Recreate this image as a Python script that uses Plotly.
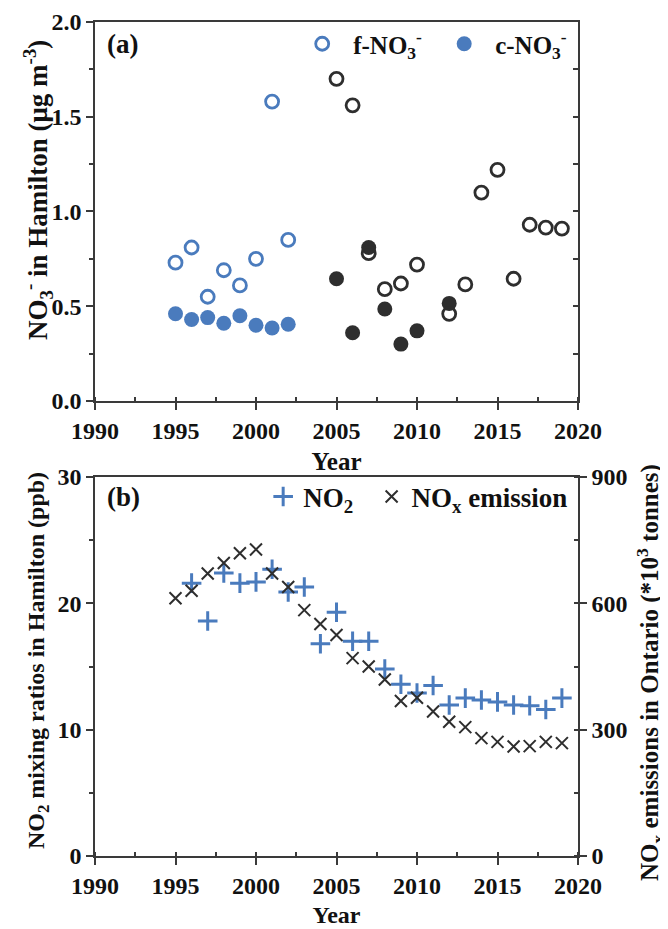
import plotly.graph_objects as go

# ---------------- data ----------------
years_early = [1995, 1996, 1997, 1998, 1999, 2000, 2001, 2002]
f_no3_early = [0.73, 0.81, 0.55, 0.69, 0.61, 0.75, 1.58, 0.85]
c_no3_early = [0.46, 0.43, 0.44, 0.41, 0.45, 0.40, 0.385, 0.405]

years_f_late = [2005, 2006, 2007, 2008, 2009, 2010, 2012, 2013, 2014, 2015, 2016, 2017, 2018, 2019]
f_no3_late = [1.70, 1.56, 0.78, 0.59, 0.62, 0.72, 0.46, 0.615, 1.10, 1.22, 0.645, 0.93, 0.915, 0.91]
years_c_late = [2005, 2006, 2007, 2008, 2009, 2010, 2012]
c_no3_late = [0.645, 0.36, 0.81, 0.485, 0.30, 0.37, 0.515]

years_no2 = [1996, 1997, 1998, 1999, 2000, 2001, 2002, 2003, 2004, 2005, 2006, 2007, 2008,
             2009, 2010, 2011, 2012, 2013, 2014, 2015, 2016, 2017, 2018, 2019]
no2_ppb = [21.6, 18.6, 22.4, 21.6, 21.7, 22.7, 20.9, 21.3, 16.8, 19.3, 17.0, 17.0, 14.8,
           13.6, 12.9, 13.5, 11.95, 12.5, 12.35, 12.2, 11.95, 11.9, 11.6, 12.5]

years_nox = list(range(1995, 2020))
nox_kt = [612, 630, 671, 696, 719, 728, 671, 639, 584, 551, 525, 470, 450, 419, 368, 376,
          343, 319, 306, 280, 271, 260, 261, 271, 268]

BLUE = "#4a7bbd"
DARK = "#2e2e2e"
AX = "#3a3a3a"

fig = go.Figure()

# top panel (filled first, open on top)
fig.add_trace(go.Scatter(x=years_early, y=c_no3_early, mode="markers", name="c-NO<sub>3</sub><sup>-</sup>",
                         marker=dict(symbol="circle", size=15, color=BLUE, line=dict(width=0)),
                         xaxis="x", yaxis="y", legend="legend", legendrank=2))
fig.add_trace(go.Scatter(x=years_c_late, y=c_no3_late, mode="markers", showlegend=False,
                         marker=dict(symbol="circle", size=15, color=DARK, line=dict(width=0)),
                         xaxis="x", yaxis="y"))
fig.add_trace(go.Scatter(x=years_early, y=f_no3_early, mode="markers",
                         name="f-NO<sub>3</sub><sup>-</sup>&nbsp;",
                         marker=dict(symbol="circle-open", size=13, color=BLUE, line=dict(width=2.8, color=BLUE)),
                         xaxis="x", yaxis="y", legend="legend", legendrank=1))
fig.add_trace(go.Scatter(x=years_f_late, y=f_no3_late, mode="markers", showlegend=False,
                         marker=dict(symbol="circle-open", size=13, color=DARK, line=dict(width=2.8, color=DARK)),
                         xaxis="x", yaxis="y"))
# empty trace carrying the inner right-hand tick axis of the top panel
fig.add_trace(go.Scatter(x=[None], y=[None], mode="markers", showlegend=False, hoverinfo="skip",
                         xaxis="x", yaxis="y4"))

# bottom panel
fig.add_trace(go.Scatter(x=years_no2, y=no2_ppb, mode="markers",
                         name="NO<sub>2</sub>&nbsp;&nbsp;",
                         marker=dict(symbol="cross-thin", size=14, color=BLUE, line=dict(width=3, color=BLUE)),
                         xaxis="x2", yaxis="y2", legend="legend2", legendrank=1))
fig.add_trace(go.Scatter(x=years_nox, y=nox_kt, mode="markers", name="NO<sub>x</sub> emission",
                         marker=dict(symbol="x-thin", size=12, color=DARK, line=dict(width=2, color=DARK)),
                         xaxis="x2", yaxis="y3", legend="legend2", legendrank=2))

TOP_DOM = [0.5456, 1.0]
BOT_DOM = [0.0, 0.4544]

TICK = dict(size=24)
common_x = dict(range=[1990, 2020], dtick=5, tick0=1990, showgrid=False, zeroline=False,
                showline=True, linecolor=AX, linewidth=1.5, ticks="outside", ticklen=7,
                tickwidth=1.5, tickcolor=AX, tickfont=TICK, automargin=False,
                minor=dict(dtick=2.5, tick0=1990, ticks="inside", ticklen=4, tickwidth=1.5, tickcolor=AX))


def ytitle(text, x, y, size):
    return dict(text=text, x=x, y=y, xref="paper", yref="paper", xanchor="center",
                yanchor="middle", textangle=-90, showarrow=False, font=dict(size=size))


# the page body adds an 8px offset, so the figure is 8px smaller and margins shifted
fig.update_layout(
    width=660, height=921,
    margin=dict(l=87, r=90, t=14, b=73),
    paper_bgcolor="white", plot_bgcolor="white",
    font=dict(family="Liberation Serif", size=24, color="#111111", weight="bold"),
    xaxis=dict(common_x, anchor="y", domain=[0, 1], mirror=True,
               title=dict(text="Year", font=dict(size=25), standoff=10)),
    xaxis2=dict(common_x, anchor="y2", domain=[0, 1], mirror=True,
                title=dict(text="Year", font=dict(size=24), standoff=9)),
    yaxis=dict(domain=TOP_DOM, anchor="x", range=[0, 2], dtick=0.5, tickformat=".1f",
               showgrid=False, zeroline=False, showline=True, linecolor=AX, linewidth=1.5, mirror=True,
               ticks="outside", ticklen=7, tickwidth=1.5, tickcolor=AX, tickfont=TICK, automargin=False,
               minor=dict(dtick=0.25, ticks="outside", ticklen=4, tickwidth=1.5, tickcolor=AX)),
    yaxis4=dict(overlaying="y", side="right", anchor="x", range=[0, 2], dtick=0.25,
                showgrid=False, zeroline=False, showline=False, showticklabels=False,
                ticks="inside", ticklen=5, tickwidth=1.5, tickcolor=AX, automargin=False),
    yaxis2=dict(domain=BOT_DOM, anchor="x2", range=[0, 30], dtick=10,
                showgrid=False, zeroline=False, showline=True, linecolor=AX, linewidth=1.5,
                ticks="outside", ticklen=7, tickwidth=1.5, tickcolor=AX, tickfont=TICK, automargin=False,
                minor=dict(dtick=5, ticks="outside", ticklen=4, tickwidth=1.5, tickcolor=AX)),
    yaxis3=dict(overlaying="y2", side="right", anchor="x2", range=[0, 900], dtick=300,
                showgrid=False, zeroline=False, showline=True, linecolor=AX, linewidth=1.5,
                ticks="outside", ticklen=7, tickwidth=1.5, tickcolor=AX, tickfont=TICK, automargin=False,
                minor=dict(dtick=150, ticks="inside", ticklen=4, tickwidth=1.5, tickcolor=AX)),
    legend=dict(orientation="h", x=0.988, xanchor="right", y=0.9736, yanchor="middle",
                bgcolor="rgba(0,0,0,0)", font=dict(size=25), itemwidth=52,
                traceorder="normal"),
    legend2=dict(orientation="h", x=0.99, xanchor="right", y=0.4305, yanchor="middle",
                 bgcolor="rgba(0,0,0,0)", font=dict(size=27), itemwidth=30,
                 traceorder="normal"),
    annotations=[
        dict(text="(a)", x=0.02, y=0.9736, xref="paper", yref="paper", xanchor="left",
             yanchor="middle", showarrow=False, font=dict(size=27)),
        dict(text="(b)", x=0.02, y=0.4305, xref="paper", yref="paper", xanchor="left",
             yanchor="middle", showarrow=False, font=dict(size=27)),
        ytitle("NO<sub>3</sub><sup>-</sup> in Hamilton (μg m<sup>-3</sup>)", -0.118, 0.7986, 27),
        ytitle("NO<sub>2</sub> mixing ratios in Hamilton (ppb)", -0.118, 0.2338, 24),
        ytitle("NO<sub>x</sub> emissions in Ontario (*10<sup>3</sup> tonnes)", 1.149, 0.2206, 25),
    ],
    showlegend=True,
)

fig.write_html("out.html")
